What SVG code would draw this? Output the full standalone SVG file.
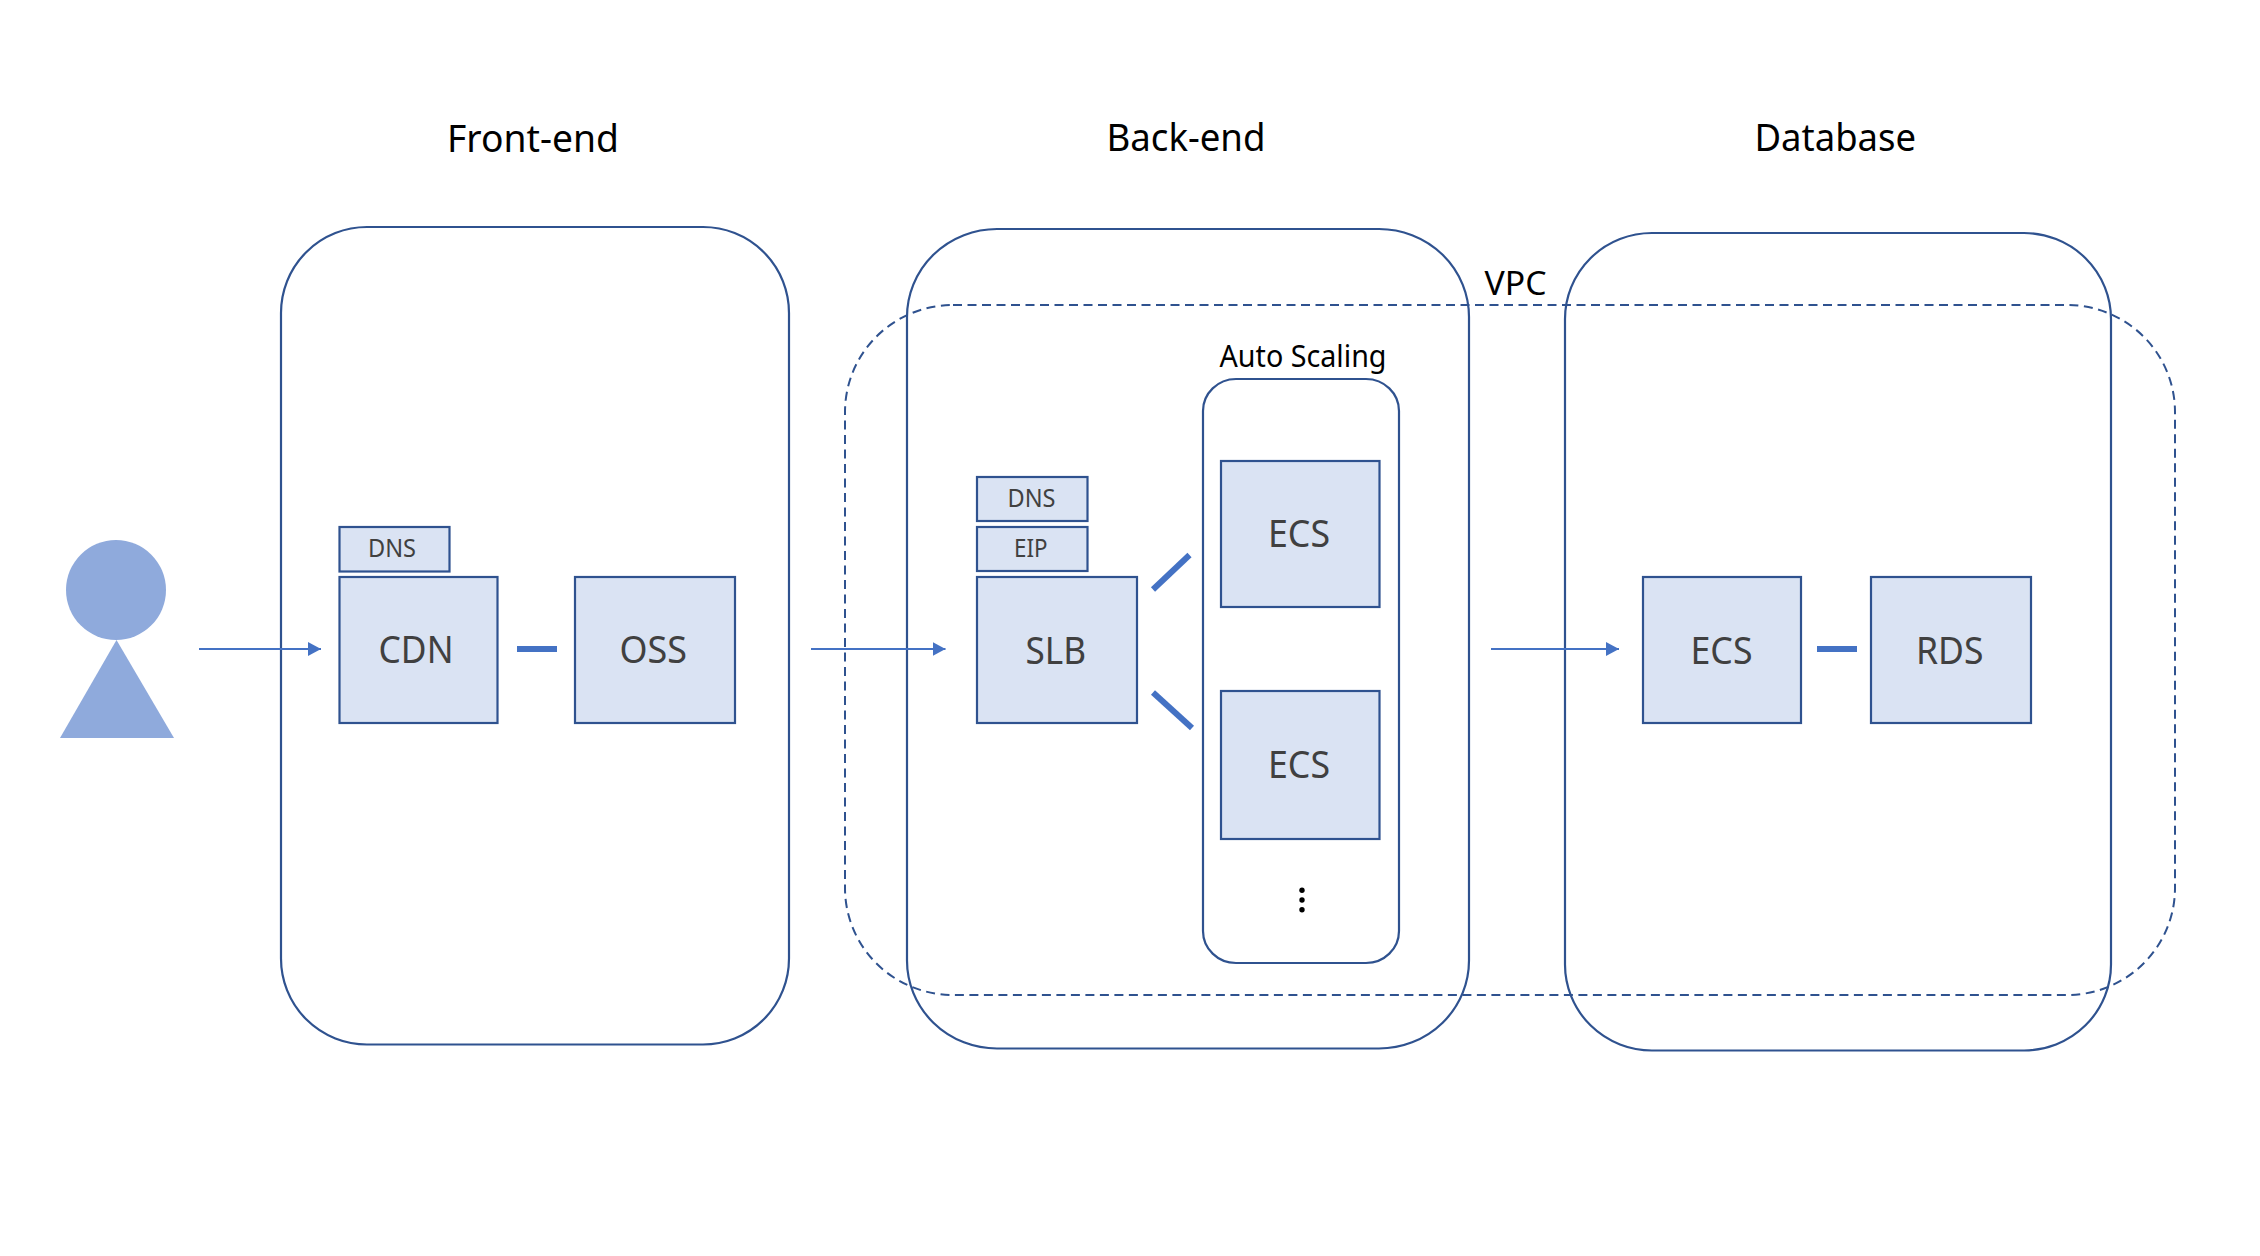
<svg xmlns="http://www.w3.org/2000/svg" width="2260" height="1256" viewBox="0 0 2260 1256">
<style>
text{font-family:"Noto Sans","Open Sans","Liberation Sans",sans-serif}
.h{font-size:39px;fill:#000}
.s{font-size:30.500px;fill:#000}
.n{font-size:39px;fill:#404040}
.m{font-size:25px;fill:#404040}
.c{fill:none;stroke:#2f528f;stroke-width:2.200}
.v{fill:none;stroke:#2f528f;stroke-width:2;stroke-dasharray:9 5.500}
.b{fill:#dae3f3;stroke:#2f528f;stroke-width:2.200}
.a{fill:none;stroke:#4472c4;stroke-width:2;marker-end:url(#arr)}
.t{fill:none;stroke:#4472c4;stroke-width:6}
.p{fill:#8faadc}
</style>
<defs><marker id="arr" markerUnits="userSpaceOnUse" markerWidth="14" markerHeight="14" refX="13" refY="7" orient="auto"><path d="M0 0L13 7L0 14Z" fill="#4472c4"/></marker></defs>
<rect width="2260" height="1256" fill="#fff"/>
<g id="frontend"><rect class="c" x="281" y="227" width="508" height="817.500" rx="86" ry="86"/><text class="h" x="447" y="151.500" textLength="172" lengthAdjust="spacingAndGlyphs">Front-end</text></g>
<g id="backend"><rect class="c" x="907" y="229" width="562" height="819.500" rx="90" ry="88"/><text class="h" x="1106.500" y="151" textLength="159" lengthAdjust="spacingAndGlyphs">Back-end</text></g>
<g id="database"><rect class="c" x="1565" y="233" width="546" height="817.500" rx="87" ry="86"/><text class="h" x="1754.500" y="151" textLength="161.500" lengthAdjust="spacingAndGlyphs">Database</text></g>
<g id="vpc"><rect class="v" x="845" y="305" width="1330" height="690" rx="108" ry="107"/><text class="h" style="font-size:32.500px" x="1484.500" y="294.500" textLength="62" lengthAdjust="spacingAndGlyphs">VPC</text></g>
<g id="autoscaling"><rect class="c" x="1203" y="379" width="196" height="584" rx="33" ry="32"/><text class="s" x="1219.500" y="366.500" textLength="167" lengthAdjust="spacingAndGlyphs">Auto Scaling</text><circle cx="1302" cy="890.300" r="2.700"/><circle cx="1302" cy="900" r="2.700"/><circle cx="1302" cy="909.700" r="2.700"/></g>
<g id="user"><circle class="p" cx="116" cy="590" r="50"/><path class="p" d="M116.500 640L174 738H60Z"/></g>
<g id="dns1"><rect class="b" x="339.500" y="527" width="110" height="44.500"/><text class="m" x="368" y="557" textLength="48" lengthAdjust="spacingAndGlyphs">DNS</text></g>
<g id="cdn"><rect class="b" x="339.500" y="577" width="158" height="146"/><text class="n" x="378.500" y="663" textLength="75" lengthAdjust="spacingAndGlyphs">CDN</text></g>
<g id="oss"><rect class="b" x="575" y="577" width="160" height="146"/><text class="n" x="619.500" y="663" textLength="67.500" lengthAdjust="spacingAndGlyphs">OSS</text></g>
<g id="dns2"><rect class="b" x="977" y="477" width="110.500" height="44"/><text class="m" x="1007.500" y="507" textLength="48" lengthAdjust="spacingAndGlyphs">DNS</text></g>
<g id="eip"><rect class="b" x="977" y="527" width="110.500" height="44"/><text class="m" x="1014" y="557" textLength="33.500" lengthAdjust="spacingAndGlyphs">EIP</text></g>
<g id="slb"><rect class="b" x="977" y="577" width="160" height="146"/><text class="n" x="1025.500" y="663.500" textLength="60.500" lengthAdjust="spacingAndGlyphs">SLB</text></g>
<g id="ecs1"><rect class="b" x="1221" y="461" width="158.500" height="146"/><text class="n" x="1268" y="547" textLength="62" lengthAdjust="spacingAndGlyphs">ECS</text></g>
<g id="ecs2"><rect class="b" x="1221" y="691" width="158.500" height="148"/><text class="n" x="1268" y="777.500" textLength="62" lengthAdjust="spacingAndGlyphs">ECS</text></g>
<g id="ecs3"><rect class="b" x="1643" y="577" width="158" height="146"/><text class="n" x="1690.500" y="663.500" textLength="62" lengthAdjust="spacingAndGlyphs">ECS</text></g>
<g id="rds"><rect class="b" x="1871" y="577" width="160" height="146"/><text class="n" x="1916" y="663.500" textLength="67.500" lengthAdjust="spacingAndGlyphs">RDS</text></g>
<g id="connectors">
<line class="a" x1="199" y1="649" x2="321" y2="649"/>
<line class="a" x1="811" y1="649" x2="945.500" y2="649"/>
<line class="a" x1="1491" y1="649" x2="1619" y2="649"/>
<line class="t" x1="517" y1="649" x2="557" y2="649"/>
<line class="t" x1="1817" y1="649" x2="1857" y2="649"/>
<line class="t" x1="1153" y1="589.500" x2="1189.500" y2="555"/>
<line class="t" x1="1153" y1="692.500" x2="1192" y2="728"/>
</g>
</svg>
